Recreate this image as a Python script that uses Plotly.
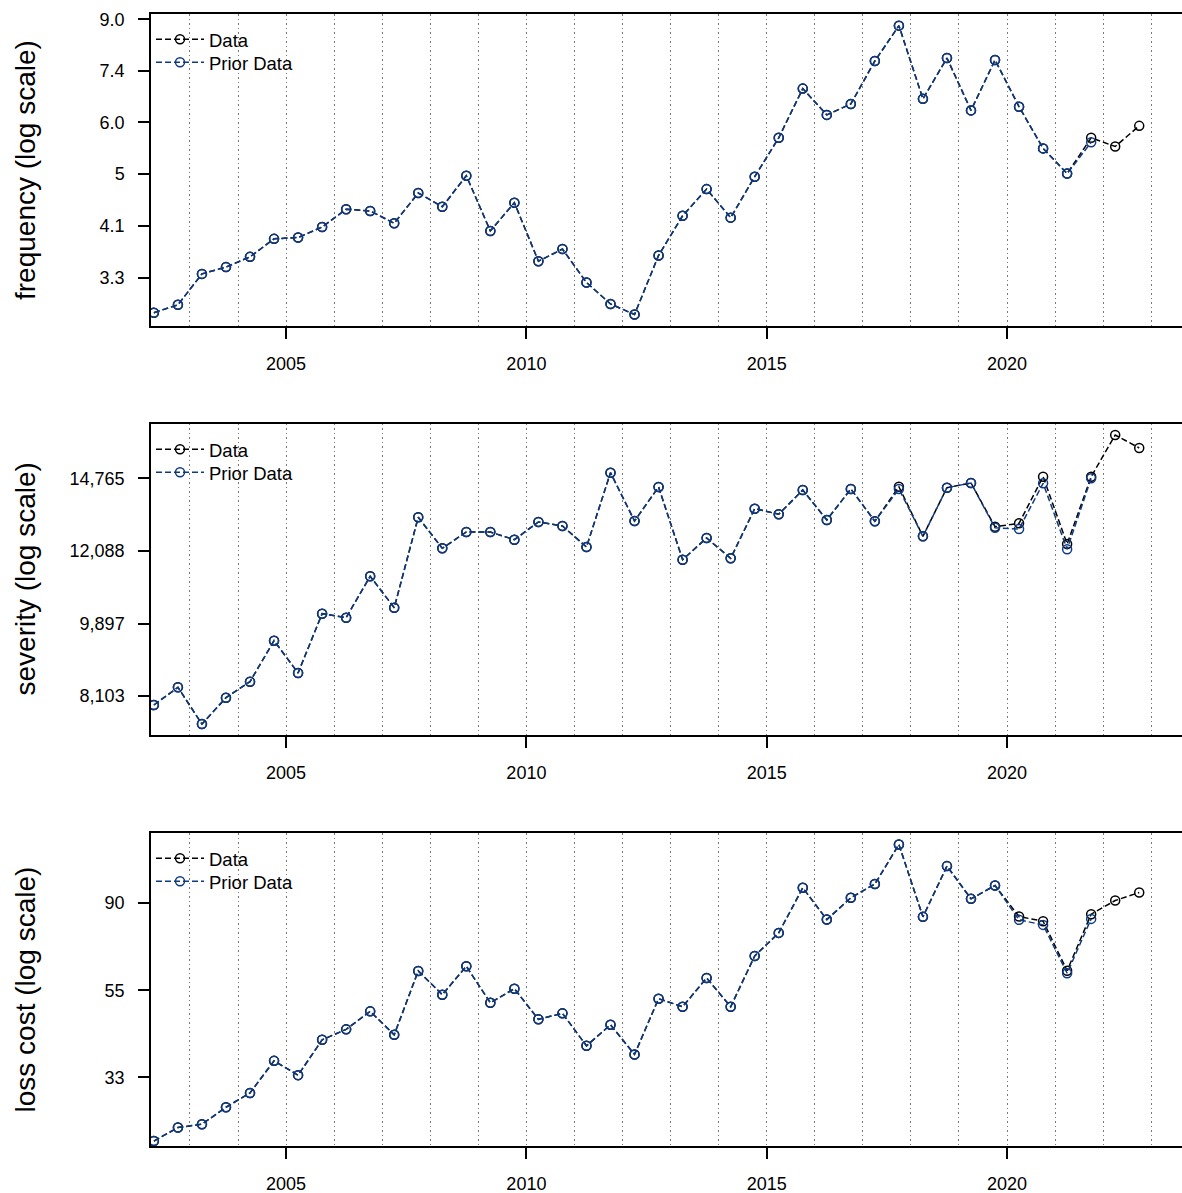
import plotly.graph_objects as go

# Half-year periods (mid-points)
periods = [2002.25, 2002.75, 2003.25, 2003.75, 2004.25, 2004.75, 2005.25, 2005.75,
           2006.25, 2006.75, 2007.25, 2007.75, 2008.25, 2008.75, 2009.25, 2009.75,
           2010.25, 2010.75, 2011.25, 2011.75, 2012.25, 2012.75, 2013.25, 2013.75,
           2014.25, 2014.75, 2015.25, 2015.75, 2016.25, 2016.75, 2017.25, 2017.75,
           2018.25, 2018.75, 2019.25, 2019.75, 2020.25, 2020.75, 2021.25, 2021.75,
           2022.25, 2022.75]
prior_periods = periods[:40]

freq_data = [2.89, 2.98, 3.36, 3.45, 3.59, 3.85, 3.87, 4.03, 4.32, 4.29, 4.09, 4.60,
             4.36, 4.92, 3.97, 4.43, 3.53, 3.70, 3.25, 2.99, 2.87, 3.61, 4.21, 4.67,
             4.18, 4.90, 5.70, 6.90, 6.23, 6.50, 7.68, 8.81, 6.63, 7.77, 6.34, 7.71,
             6.43, 5.47, 4.96, 5.70, 5.51, 5.97]
freq_prior = [2.89, 2.98, 3.36, 3.45, 3.59, 3.85, 3.87, 4.03, 4.32, 4.29, 4.09, 4.60,
              4.36, 4.92, 3.97, 4.43, 3.53, 3.70, 3.25, 2.99, 2.87, 3.61, 4.21, 4.67,
              4.18, 4.90, 5.70, 6.90, 6.23, 6.50, 7.68, 8.81, 6.63, 7.77, 6.34, 7.71,
              6.43, 5.47, 4.96, 5.60]

sev_data = [7907, 8302, 7503, 8068, 8432, 9440, 8636, 10169, 10057, 11272, 10336, 13262,
            12175, 12735, 12735, 12467, 13091, 12948, 12219, 14994, 13126, 14415, 11799,
            12525, 11845, 13579, 13374, 14297, 13163, 14337, 13116, 14427, 12584, 14387,
            14575, 12923, 13043, 14830, 12320, 14830, 16636, 16051]
sev_prior = [7907, 8302, 7503, 8068, 8432, 9440, 8636, 10169, 10057, 11272, 10336, 13262,
             12175, 12735, 12735, 12467, 13091, 12948, 12219, 14994, 13126, 14415, 11799,
             12525, 11845, 13579, 13374, 14297, 13163, 14337, 13116, 14337, 12584, 14387,
             14575, 12880, 12840, 14563, 12141, 14765]

lc_data = [22.99, 24.84, 25.32, 27.91, 30.30, 36.42, 33.55, 41.09, 43.63, 48.38, 42.29,
           61.0, 53.23, 62.66, 50.83, 55.10, 46.21, 47.83, 39.70, 44.79, 37.79, 52.01,
           49.67, 58.59, 49.67, 66.48, 75.88, 98.27, 81.9, 92.79, 100.4, 126.0, 83.19,
           111.3, 92.25, 99.58, 83.33, 81.15, 61.09, 84.48, 91.35, 95.65]
lc_prior = [22.99, 24.84, 25.32, 27.91, 30.30, 36.42, 33.55, 41.09, 43.63, 48.38, 42.29,
            61.0, 53.23, 62.66, 50.83, 55.10, 46.21, 47.83, 39.70, 44.79, 37.79, 52.01,
            49.67, 58.59, 49.67, 66.48, 75.88, 98.27, 81.9, 92.79, 100.4, 126.0, 83.19,
            111.3, 92.25, 99.58, 81.77, 79.45, 60.19, 82.23]

freq_tickvals = [3.31, 4.05, 4.96, 6.05, 7.40, 9.03]
freq_ticktext = ["3.3", "4.1", "5", "6.0", "7.4", "9.0"]
sev_tickvals = [8103, 9897, 12088, 14765]
sev_ticktext = ["8,103", "9,897", "12,088", "14,765"]
lc_tickvals = [33.11, 54.59, 90]
lc_ticktext = ["33", "55", "90"]

x_tickvals = [2005, 2010, 2015, 2020]
titles = ["frequency (log scale)", "severity (log scale)", "loss cost (log scale)"]
series_names = ["Data", "Prior Data"]

FONT = "Liberation Sans, Arial, Helvetica, sans-serif"
BLUE = "#0e3a84"
GRID = "#7a7a7a"

panels = [
    dict(data=freq_data, prior=freq_prior, tv=freq_tickvals, tt=freq_ticktext,
         yr=[0.43848, 0.96463], dom=[0.72438, 1.0]),
    dict(data=sev_data, prior=sev_prior, tv=sev_tickvals, tt=sev_ticktext,
         yr=[3.86212, 4.23418], dom=[0.36307, 0.63781]),
    dict(data=lc_data, prior=lc_prior, tv=lc_tickvals, tt=lc_ticktext,
         yr=[1.34922, 2.12898], dom=[0.0, 0.27650]),
]

fig = go.Figure()
layout = {}
annotations = []
for i, p in enumerate(panels):
    sfx = "" if i == 0 else str(i + 1)
    xa, ya = "x" + sfx, "y" + sfx
    lg_data = "legend" + sfx
    lg_prior = "legend" + str(i + 4)
    fig.add_trace(go.Scatter(
        x=periods, y=p["data"], mode="lines+markers", name=series_names[0],
        line=dict(color="black", width=1.5, dash="6px,3px"),
        marker=dict(symbol="circle-open", size=9, color="black", line=dict(width=1.5)),
        xaxis=xa, yaxis=ya, legend=lg_data, showlegend=True))
    fig.add_trace(go.Scatter(
        x=prior_periods, y=p["prior"], mode="lines+markers", name=series_names[1],
        line=dict(color=BLUE, width=1.5, dash="6px,3px"),
        marker=dict(symbol="circle-open", size=9, color=BLUE, line=dict(width=1.5)),
        xaxis=xa, yaxis=ya, legend=lg_prior, showlegend=True))

    layout["xaxis" + sfx] = dict(
        domain=[0, 1], anchor=ya, range=[2002.19, 2023.64],
        tickmode="array", tickvals=x_tickvals,
        ticks="outside", ticklen=11, tickwidth=1.5, tickcolor="black",
        showline=True, linecolor="black", linewidth=1.5, mirror=True,
        showgrid=True, gridcolor=GRID, griddash="1.5px,3px", gridwidth=1.3,
        minor=dict(tickmode="linear", tick0=2000, dtick=1, showgrid=True,
                   gridcolor=GRID, griddash="1.5px,3px", gridwidth=1.3, ticks=""),
        zeroline=False, tickfont=dict(size=18, color="black"),
        ticklabelstandoff=10, automargin=False)
    layout["yaxis" + sfx] = dict(
        domain=p["dom"], anchor=xa, type="log", range=p["yr"],
        tickmode="array", tickvals=p["tv"], ticktext=p["tt"],
        ticks="outside", ticklen=11, tickwidth=1.5, tickcolor="black",
        showline=True, linecolor="black", linewidth=1.5, mirror=False,
        showgrid=False, zeroline=False, tickfont=dict(size=18, color="black"),
        ticklabelstandoff=10, automargin=False)
    for lg, dy in ((lg_data, 0.006), (lg_prior, 0.006 + 0.0203)):
        layout[lg] = dict(
            x=0.0, xanchor="left", y=p["dom"][1] - dy, yanchor="top",
            bgcolor="rgba(0,0,0,0)", borderwidth=0,
            font=dict(size=18.5, color="black"), itemwidth=48, visible=True)
    annotations.append(dict(
        text=titles[i], xref="paper", yref="paper", x=-0.1222,
        y=(p["dom"][0] + p["dom"][1]) / 2, xanchor="center", yanchor="middle",
        textangle=-90, showarrow=False, font=dict(size=28, color="black")))

fig.update_layout(
    width=1182, height=1193,
    margin=dict(l=151, r=0, t=14, b=47),
    paper_bgcolor="white", plot_bgcolor="white",
    font=dict(family=FONT, color="black"),
    showlegend=True,
    annotations=annotations,
    **layout)

fig.write_html("out.html")
